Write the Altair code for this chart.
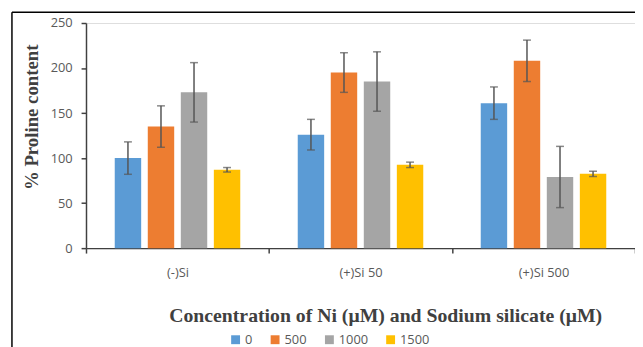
import altair as alt
import pandas as pd

groups = ["(-)Si", "(+)Si 50", "(+)Si 500"]
concs = ["0", "500", "1000", "1500"]
colors = ["#5B9BD5", "#ED7D31", "#A5A5A5", "#FFC000"]

# values per group, in conc order 0, 500, 1000, 1500
vals_minus = [100, 135, 173, 87]
vals_si50 = [126, 195, 185, 92.5]
vals_si500 = [161, 208, 79, 82.5]
err_minus = [18, 23, 33, 2.5]
err_si50 = [17, 22, 33, 3]
err_si500 = [18, 23, 34, 3]

rows = []
for g, vals, errs in [(groups[0], vals_minus, err_minus),
                      (groups[1], vals_si50, err_si50),
                      (groups[2], vals_si500, err_si500)]:
    for c, v, e in zip(concs, vals, errs):
        rows.append({"group": g, "conc": c, "value": v, "lo": v - e, "hi": v + e})
df = pd.DataFrame(rows)

W = 556
H = 228
axis_col = "#404040"
label_col = "#595959"

x_enc = alt.X("group:N", sort=groups,
              scale=alt.Scale(paddingInner=0, paddingOuter=0),
              axis=alt.Axis(title="Concentration of Ni (μM) and Sodium silicate (μM)",
                            labelAngle=0, tickBand="extent", tickSize=5,
                            labelPadding=14, labelFont="Open Sans", labelFontSize=13,
                            labelColor=label_col, domainColor=axis_col, tickColor=axis_col,
                            domainWidth=1.5, tickWidth=1.5,
                            titleFont="Liberation Serif", titleFontWeight="bold",
                            titleFontSize=20, titleColor="#404040",
                            titleX=303, titleY=74, titleBaseline="alphabetic",
                            titleAlign="center"))
xo_enc = alt.XOffset("conc:N", sort=concs,
                     scale=alt.Scale(paddingInner=0.2, paddingOuter=0.87))

base = alt.Chart(df)

bars = base.mark_bar().encode(
    x=x_enc,
    xOffset=xo_enc,
    y=alt.Y("value:Q",
            scale=alt.Scale(domain=[0, 250], nice=False),
            axis=alt.Axis(values=[0, 50, 100, 150, 200, 250], grid=False,
                          tickSize=5, labelPadding=9, labelFont="Open Sans",
                          labelFontSize=13, labelColor=label_col,
                          domainColor=axis_col, tickColor=axis_col,
                          domainWidth=1.5, tickWidth=1.5,
                          title="% Proline content", titleFont="Liberation Serif",
                          titleFontWeight="bold", titleFontSize=19,
                          titleColor="#404040", titleAngle=270,
                          titleX=-55, titleY=95, titleAlign="center",
                          titleBaseline="middle")),
    color=alt.Color("conc:N", sort=concs,
                    scale=alt.Scale(domain=concs, range=colors),
                    legend=alt.Legend(title=None, orient="none", direction="horizontal",
                                      legendX=145, legendY=314, symbolType="square",
                                      symbolSize=81, symbolStrokeWidth=0,
                                      labelFont="Open Sans", labelFontSize=13,
                                      labelColor=label_col, columnPadding=16,
                                      labelOffset=3, padding=0)),
)

err_rule = base.mark_rule(color="#555555", strokeWidth=1.5).encode(
    x=alt.X("group:N", sort=groups), xOffset=xo_enc,
    y="lo:Q", y2="hi:Q")
cap_lo = base.mark_tick(color="#555555", size=8, thickness=1.5).encode(
    x=alt.X("group:N", sort=groups), xOffset=xo_enc, y="lo:Q")
cap_hi = base.mark_tick(color="#555555", size=8, thickness=1.5).encode(
    x=alt.X("group:N", sort=groups), xOffset=xo_enc, y="hi:Q")

frame_df = pd.DataFrame({"k": [0]})
frame_top = alt.Chart(frame_df).mark_rule(color="black", strokeWidth=1.5).encode(
    x=alt.value(-75), x2=alt.value(W + 10), y=alt.value(-11))
frame_left = alt.Chart(frame_df).mark_rule(color="black", strokeWidth=1.5).encode(
    x=alt.value(-75), y=alt.value(-11), y2=alt.value(400))

chart = alt.layer(bars, err_rule, cap_lo, cap_hi, frame_top, frame_left).properties(
    width=W, height=H,
    autosize=alt.AutoSizeParams(type="none"),
    padding={"left": 79, "top": 13, "right": 0, "bottom": 104},
).configure_view(stroke=None).configure(background="white")

chart.save("out.html", embed_options={"renderer": "svg", "actions": False})
